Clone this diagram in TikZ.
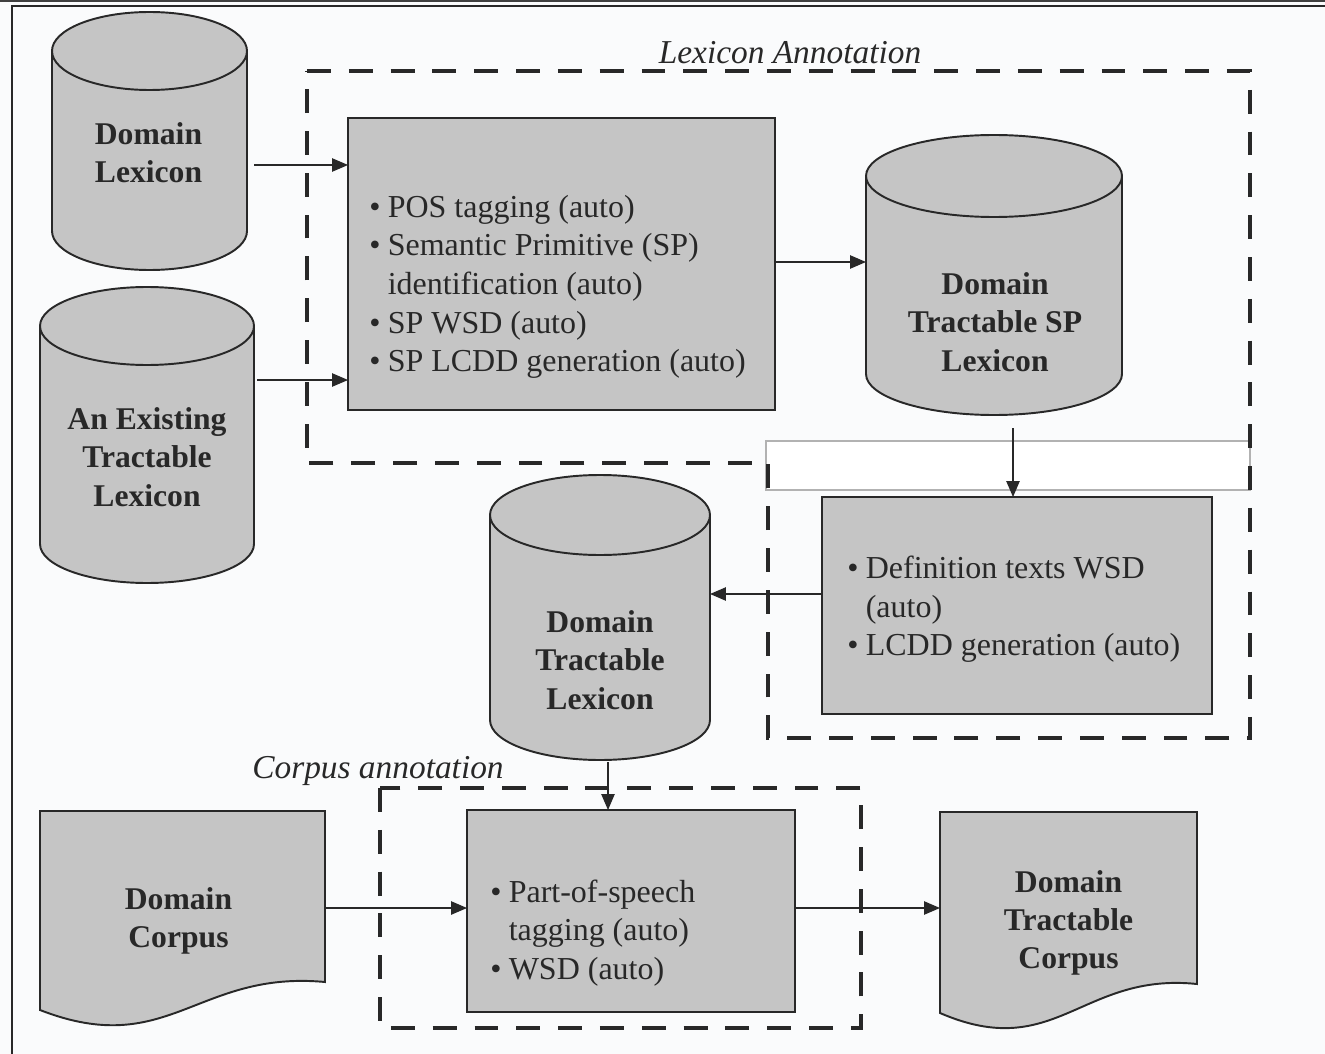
\documentclass[tikz,border=0pt]{standalone}
\usepackage{fontspec}
\setmainfont{Liberation Serif}
\usetikzlibrary{arrows.meta,calc}
\definecolor{shapegray}{RGB}{197,197,197}
\definecolor{inkc}{RGB}{40,40,40}
\definecolor{paper}{RGB}{250,251,252}
\newcommand\bitem{\makebox[10.5pt][l]{\textbullet}}
\newcommand\bcont{\hspace*{10.5pt}}
% cylinder: name, L, R, T, B, ry  (pixel units, y downward)
\newcommand\drawcyl[6]{%
  \pgfmathsetmacro\mycx{(#2+#3)/2}%
  \pgfmathsetmacro\myrx{(#3-#2)/2}%
  \pgfmathsetmacro\mycy{-(#4+#5)/2}%
  \pgfmathsetmacro\myw{(#3-#2)*0.02}%
  \pgfmathsetmacro\myh{(#5-#4)*0.02}%
  \path[shapebody] (#2,-#4-#6) -- (#2,-#5+#6)
     arc[start angle=180,end angle=360,x radius=\myrx,y radius=#6]
     -- (#3,-#4-#6)
     arc[start angle=0,end angle=180,x radius=\myrx,y radius=#6] -- cycle;
  \path[shapeedge] (#2,-#4-#6) arc[start angle=180,end angle=360,x radius=\myrx,y radius=#6];
  \node[bound,minimum width=\myw cm,minimum height=\myh cm] (#1) at (\mycx,\mycy) {};
}
% document: name, L, R, T, B(lowest), y left end, y right end
\newcommand\drawdoc[7]{%
  \pgfmathsetmacro\mycx{(#2+#3)/2}%
  \pgfmathsetmacro\mycy{-(#4+#5)/2}%
  \pgfmathsetmacro\mydw{#3-#2}%
  \pgfmathsetmacro\myw{(#3-#2)*0.02}%
  \pgfmathsetmacro\myh{(#5-#4)*0.02}%
  \path[shapebody] (#2,-#4) -- (#3,-#4) -- (#3,-#7)
     .. controls ({#2+0.55*\mydw},{-(#7-12)}) and ({#2+0.45*\mydw},{-(#6+50)}) .. (#2,-#6) -- cycle;
  \node[bound,minimum width=\myw cm,minimum height=\myh cm] (#1) at (\mycx,\mycy) {};
}
\begin{document}
\begin{tikzpicture}[x=0.02cm,y=0.02cm,
  bound/.style={inner sep=0pt,outer sep=0pt,draw=none,fill=none},
  shapebody/.style={draw=inkc,line width=1.1pt,fill=shapegray},
  shapeedge/.style={draw=inkc,line width=1.1pt},
  procbox/.style={shapebody,inner sep=0pt,outer sep=0pt},
  cyltext/.style={align=center,text=inkc,font=\fontsize{18}{21.8}\selectfont\bfseries,inner sep=0pt},
  boxtext/.style={align=left,text=inkc,font=\fontsize{18.2}{22}\selectfont,inner sep=0pt,anchor=west},
  titletext/.style={text=inkc,font=\fontsize{19}{22}\selectfont\itshape,inner sep=0pt},
  region/.style={draw=inkc,line width=2.5pt,dash pattern=on 13.6pt off 10.2pt},
  arr/.style={draw=inkc,line width=0.85pt,-{Triangle[length=9pt,width=7.5pt]}},
]
\useasboundingbox (0,0) rectangle (1325,-1054);
\fill[paper] (0,0) rectangle (1325,-1054);
\fill[black!75] (0,0) rectangle (1325,-2.5);
\draw[inkc,line width=0.8pt] (12,-1054) -- (12,-6) -- (1325,-6);

% stray white box
\draw[gray!60,line width=0.6pt,fill=white] (766,-441) rectangle (1250,-490);

% annotation regions
\draw[region] (307,-71) -- (1250,-71) -- (1250,-738) -- (768,-738) -- (768,-463) -- (307,-463) -- cycle;
\draw[region] (380,-788) rectangle (861,-1028);

% process boxes
\node[procbox,minimum width=8.54cm,minimum height=5.84cm] (box1) at (561.5,-264) {};
\node[procbox,minimum width=7.8cm,minimum height=4.34cm] (box2) at (1017,-605.5) {};
\node[procbox,minimum width=6.56cm,minimum height=4.04cm] (box3) at (631,-911) {};

% data stores
\drawcyl{dl}{52}{247}{12}{270}{39}
\drawcyl{et}{40}{254}{287}{583}{39}
\drawcyl{sp}{866}{1122}{135}{415}{41}
\drawcyl{dtl}{490}{710}{475}{760}{40}
\drawdoc{dc}{40}{325}{811}{1025}{1010}{982}
\drawdoc{dtc}{940}{1197}{812}{1027}{1013}{984}

% labels
\node[cyltext] (dl-t) at ($(dl.center)+(-1,-12)$) {Domain\\Lexicon};
\node[cyltext] (et-t) at ($(et.center)+(0,-22)$) {An Existing\\Tractable\\Lexicon};
\node[cyltext] (sp-t) at ($(sp.center)+(1,-47)$) {Domain\\Tractable SP\\Lexicon};
\node[cyltext] (dtl-t) at ($(dtl.center)+(0,-42.5)$) {Domain\\Tractable\\Lexicon};
\node[cyltext] (dc-t) at ($(dc.center)+(-4,-3)$) {Domain\\Corpus};
\node[cyltext] (dtc-t) at ($(dtc.center)+(0,-3.5)$) {Domain\\Tractable\\Corpus};

\node[boxtext] (box1-t) at ($(box1.west)+(21,-23)$) {\bitem POS tagging (auto)\\\bitem Semantic Primitive (SP)\\\bcont identification (auto)\\\bitem SP WSD (auto)\\\bitem SP LCDD generation (auto)};
\node[boxtext] (box2-t) at ($(box2.west)+(25,-4)$) {\bitem Definition texts WSD\\\bcont (auto)\\\bitem LCDD generation (auto)};
\node[boxtext] (box3-t) at ($(box3.west)+(23,-22)$) {\bitem Part-of-speech\\\bcont tagging (auto)\\\bitem WSD (auto)};

\node[titletext] (lexlab) at (790,-53) {Lexicon Annotation};
\node[titletext] (corplab) at (378,-771) {Corpus annotation};

% connectors
\coordinate (a1) at ($(dl.east)+(7,-24)$);
\draw[arr] (a1) -- (a1 -| box1.west);
\coordinate (a2) at ($(et.east)+(3,55)$);
\draw[arr] (a2) -- (a2 -| box1.west);
\coordinate (a3) at ($(box1.east)+(0,2)$);
\draw[arr] (a3) -- (a3 -| sp.west);
\coordinate (a4p) at (sp.south -| box2.north);
\coordinate (a4) at ($(a4p)+(-4,-13)$);
\draw[arr] (a4) -- (a4 |- box2.north);
\coordinate (a5) at ($(box2.west)+(0,11.5)$);
\draw[arr] (a5) -- (a5 -| dtl.east);
\coordinate (a6) at ($(dtl.south)+(8,-2)$);
\draw[arr] (a6) -- (a6 |- box3.north);
\coordinate (a7) at ($(dc.east)+(0,10)$);
\draw[arr] (a7) -- (a7 -| box3.west);
\coordinate (a8) at ($(box3.east)+(0,3)$);
\draw[arr] (a8) -- (a8 -| dtc.west);
\end{tikzpicture}
\end{document}
